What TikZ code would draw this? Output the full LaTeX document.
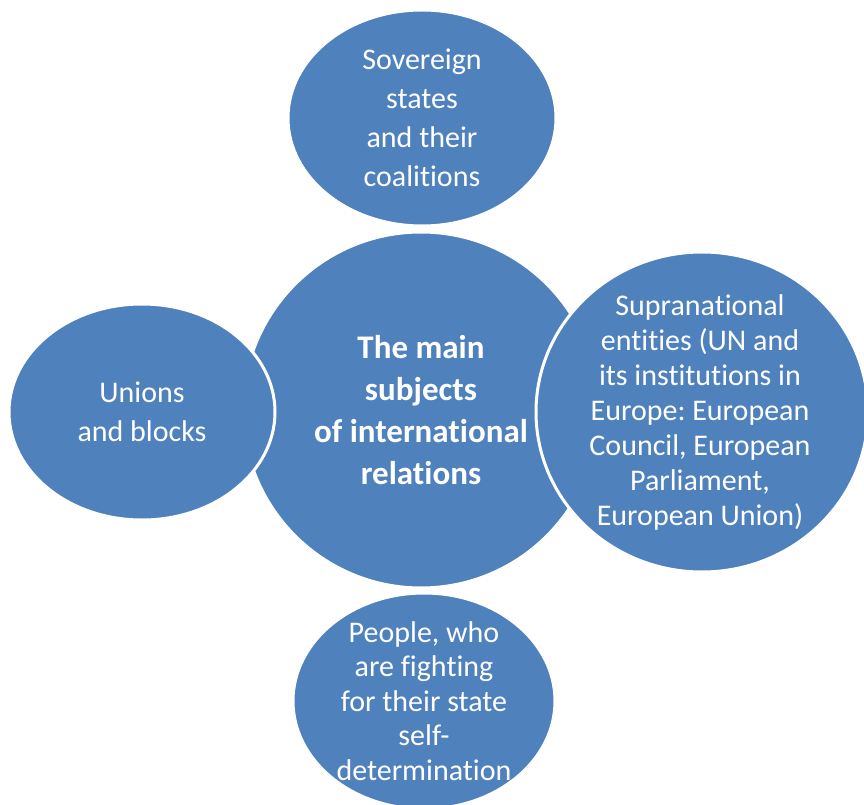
\documentclass[tikz,border=0pt]{standalone}
\usepackage{fontspec}
\setmainfont[Ligatures=NoCommon]{Carlito}
\frenchspacing
\usetikzlibrary{shapes.geometric, positioning}
\definecolor{officeblue}{HTML}{4F81BD}

\begin{document}
\begin{tikzpicture}[x=1pt, y=-1pt]
        % Stiluri
        \tikzstyle{bubble} = [ellipse, draw=white, line width=3pt, fill=officeblue, inner sep=0pt]
        \tikzstyle{bubbletext} = [text=white, align=center, inner sep=0pt, font=\fontsize{30}{39}\selectfont]
        \useasboundingbox (0,0) rectangle (864,805);

        % --- Cercul central ---
        \node [bubble, minimum width=356pt, minimum height=356pt] (core) at (421,410) {};
        \node [bubbletext, font=\bfseries\fontsize{33}{42}\selectfont] (coretext) at (core) {The main\\ subjects\\ of international\\ relations};

        % --- Sus ---
        \node [bubble, minimum width=268pt, minimum height=216pt] (sovereign) at (422,118) {};
        \node [bubbletext] (sovereigntext) at (sovereign) {Sovereign\\ states\\ and their\\ coalitions};

        % --- Stanga ---
        \node [bubble, minimum width=266pt, minimum height=216pt] (unions) at (142,412) {};
        \node [bubbletext] (unionstext) at (unions) {Unions\\ and blocks};

        % --- Dreapta ---
        \node [bubble, minimum width=332pt, minimum height=320pt] (supra) at (702,412) {};
        \node [bubbletext, font=\fontsize{30}{35}\selectfont] (supratext) at ([xshift=-2pt]supra.center) {Supranational\\ entities (UN and\\ its institutions in\\ Europe: European\\ Council, European\\ Parliament,\\ European Union)};

        % --- Jos ---
        \node [bubble, minimum width=262pt, minimum height=216pt] (people) at (424,701) {};
        \node [bubbletext, font=\fontsize{30}{34.5}\selectfont] (peopletext) at (people) {People, who\\ are fighting\\ for their state\\ self-\\ determination};

    \end{tikzpicture}
\end{document}
